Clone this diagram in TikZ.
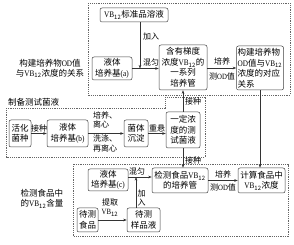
\documentclass[tikz,border=0pt]{standalone}
\usepackage{fontspec}
\newfontfamily\cjk{Noto Sans CJK SC}
\newfontfamily\latn[FakeStretch=0.85]{Liberation Serif}
\newcommand\vbt{{\latn VB}\textsubscript{12}}
\newcommand\odt{{\latn OD}}
\usetikzlibrary{arrows.meta}
\begin{document}
\begin{tikzpicture}[x=1pt,y=-1pt,
  font=\cjk\fontsize{8.5}{10.5}\selectfont,
  bx/.style={draw=black!75, line width=0.5pt, rounded corners=2pt, align=center, inner sep=0pt},
  arr/.style={-{Stealth[length=3.5pt,width=2.6pt]}, line width=0.5pt, draw=black!80},
  lbl/.style={inner sep=0pt, align=center, font=\cjk\fontsize{8}{9.5}\selectfont},
  dsh/.style={draw=black!60, dash pattern=on 1.2pt off 1pt, line width=0.5pt}]
\useasboundingbox (0,0) rectangle (294,245);
% dashed frames
\draw[dsh] (88,3) rectangle (290,95);
\draw[dsh] (6,108) -- (165,108) -- (165,97) -- (205,97) -- (205,157) -- (6,157) -- cycle;
\draw[dsh] (73,164) rectangle (288,236);
% top section
\node[lbl, font=\cjk\fontsize{8.5}{10}\selectfont] (tl1) at (50,68.5) {构建培养物\odt 值\\与\vbt 浓度的关系};
\node[bx, minimum width=68pt, minimum height=14pt] (vb) at (134,15) {\vbt 标准品溶液};
\node[bx, minimum width=40pt, minimum height=23pt] (la) at (112,68.5) {液体\\培养基{\latn (a)}};
\node[bx, minimum width=48pt, minimum height=45pt] (gr) at (183,67.5) {含有梯度\\浓度\vbt 的\\一系列\\培养管};
\node[bx, minimum width=47pt, minimum height=44pt, align=left] (gj) at (260,68) {构建培养物\\\odt 值与\vbt\\浓度的对应\\关系};
\coordinate (j1) at (140,68.5);
\draw[arr] (vb.south -| j1) -- (j1);
\draw[arr] (la.east) -- (la.east -| gr.west);
\node[lbl] (t1) at (151,37) {加入};
\node[lbl] (t2) at (151,62) {混匀};
\draw[arr] (gr.east |- gj.west) -- (gj.west);
\node[lbl] (t3) at (222,61) {培养};
\node[lbl] (t4) at (222,76) {测\odt 值};
% middle section
\node[lbl, anchor=west, font=\cjk\fontsize{8.5}{10}\selectfont] (ml) at (8,102) {制备测试菌液};
\node[bx, minimum width=22pt, minimum height=27pt] (hh) at (20,133.5) {活化\\菌种};
\node[bx, minimum width=41pt, minimum height=27pt] (lb) at (67.5,133.5) {液体\\培养基{\latn (b)}};
\node[bx, minimum width=24pt, minimum height=27pt] (jt) at (136,133.5) {菌体\\沉淀};
\node[bx, minimum width=34pt, minimum height=36pt] (yd) at (183,130) {一定浓\\度的测\\试菌液};
\draw[arr] (hh) -- (lb);
\node[lbl] (m1) at (39,128) {接种};
\draw[arr] (lb) -- (jt);
\node[lbl, anchor=north west, align=left] (m2) at (93,111.5) {培养、\\离心};
\node[lbl, anchor=north west, align=left] (m3) at (93,135) {洗涤、\\再离心};
\draw[arr] (jt.east) -- (jt.east -| yd.west);
\node[lbl] (m4) at (157,128) {重悬};
\draw[arr] (yd.north) -- (yd.north |- gr.south);
\node[lbl] (m5) at (193,101.5) {接种};
% bottom section
\node[lbl, font=\cjk\fontsize{8.5}{10}\selectfont] (bl) at (42,199) {检测食品中\\的\vbt 含量};
\node[bx, minimum width=40pt, minimum height=22pt] (lc) at (108,180) {液体\\培养基{\latn (c)}};
\node[bx, minimum width=56pt, minimum height=25pt] (jc) at (180,180.5) {检测食品\vbt\\的培养管};
\node[bx, minimum width=47pt, minimum height=25pt] (js) at (261.5,180.5) {计算食品中\\\vbt 浓度};
\node[bx, minimum width=21pt, minimum height=24pt] (dc) at (87.5,220) {待测\\食品};
\node[bx, minimum width=33pt, minimum height=24pt] (dy) at (143.5,220) {待测\\样品液};
\draw[arr] (yd.south) -- (yd.south |- jc.north);
\node[lbl] (m6) at (193,160.5) {接种};
\coordinate (j2) at (136,177);
\draw[arr] (lc.east |- j2) -- (jc.west |- j2);
\draw[arr] (dy.north -| j2) -- (j2);
\node[lbl] (b1) at (137,171) {混匀};
\node[lbl] (b2) at (141.5,198) {加\\入};
\draw[arr] (dc) -- (dy);
\node[lbl] (b3) at (110,207.5) {提取\\\vbt};
\draw[arr] (jc) -- (js);
\node[lbl] (b4) at (223,174) {培养};
\node[lbl] (b5) at (223,187) {测\odt 值};
\draw[arr] (gj.south) -- (gj.south |- js.north);
\end{tikzpicture}
\end{document}
